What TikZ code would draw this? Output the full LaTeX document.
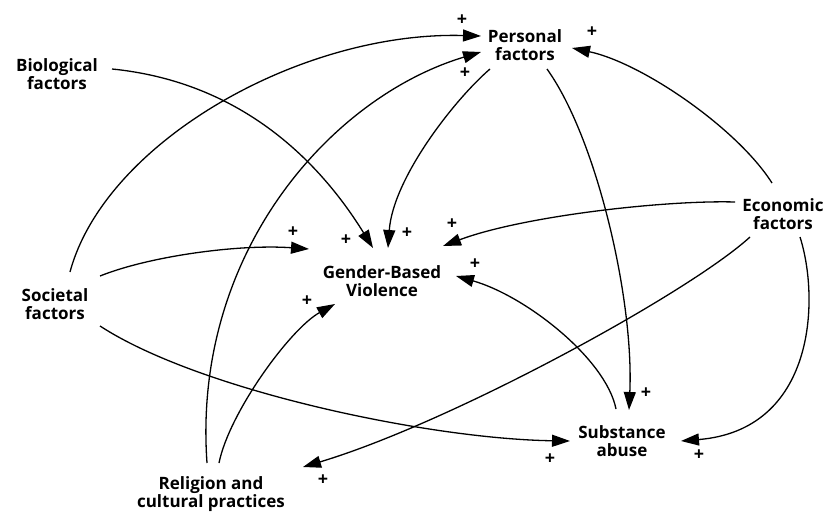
\documentclass[tikz,border=0pt]{standalone}
\usepackage{fontspec}
\setmainfont{Open Sans}
\usetikzlibrary{arrows.meta,calc}
\begin{document}
\begin{tikzpicture}[x=1pt,y=-1pt,
  factor/.style={font=\bfseries\fontsize{17}{17.5}\selectfont, align=center, inner sep=0pt},
  link/.style={line width=1.3pt, -{Triangle[length=18pt,width=12pt]}},
  plus/.style={font=\bfseries\fontsize{18}{18}\selectfont, inner sep=0pt}]
\useasboundingbox (0,0) rectangle (826,513);

% factors
\node[factor] (pers) at (525,45)  {Personal\\factors};
\node[factor] (bio)  at (57,74)   {Biological\\factors};
\node[factor] (econ) at (783,214) {Economic\\factors};
\node[factor] (gbv)  at (382,281) {Gender-Based\\Violence};
\node[factor] (soc)  at (55,304)  {Societal\\factors};
\node[factor] (subs) at (622,441) {Substance\\abuse};
\node[factor] (rel)  at (211,494) {Religion and\\cultural practices};

% causal links
\draw[link] ($(bio)+(55,-5)$)  .. controls +(120,12) and +(-60,-97) .. ($(gbv)+(-9,-33)$);
\draw[link] ($(pers)+(-35,24)$) .. controls +(-35,30) and +(5,-70) .. ($(gbv)+(6,-33)$);
\draw[link] ($(soc)+(15,-32)$)  .. controls +(35,-130) and +(-180,-5) .. ($(pers)+(-44,-9)$);
\draw[link] ($(rel)+(-4,-31)$)  .. controls +(-15,-210) and +(-150,45) .. ($(pers)+(-44,7)$);
\draw[link] ($(soc)+(45,-28)$)  .. controls +(50,-20) and +(-70,-5) .. ($(gbv)+(-73,-32)$);
\draw[link] ($(econ)+(-11,-31)$) .. controls +(-35,-55) and +(70,15) .. ($(pers)+(47,3)$);
\draw[link] ($(econ)+(-48,-12)$) .. controls +(-70,-2) and +(80,-30) .. ($(gbv)+(61,-35)$);
\draw[link] ($(econ)+(-33,23)$) .. controls +(-60,55) and +(150,-45) .. ($(rel)+(92,-27)$);
\draw[link] ($(econ)+(17,23)$)  .. controls +(20,63) and +(134,-11) .. ($(subs)+(59,0)$);
\draw[link] ($(pers)+(22,24)$)  .. controls +(50,70) and +(5,-110) .. ($(subs)+(7,-31)$);
\draw[link] ($(subs)+(-6,-32)$) .. controls +(-10,-50) and +(70,20) .. ($(gbv)+(74,-5)$);
\draw[link] ($(soc)+(45,22)$)   .. controls +(100,65) and +(-140,-2) .. ($(subs)+(-52,0)$);
\draw[link] ($(rel)+(8,-31)$)   .. controls +(10,-50) and +(-45,25) .. ($(gbv)+(-47,23)$);

% polarity signs
\node[plus] (s1)  at (346,240) {+};
\node[plus] (s2)  at (407,233) {+};
\node[plus] (s3)  at (462,20)  {+};
\node[plus] (s4)  at (465,73)  {+};
\node[plus] (s5)  at (293,232) {+};
\node[plus] (s6)  at (592,32)  {+};
\node[plus] (s7)  at (452,224) {+};
\node[plus] (s8)  at (323,480) {+};
\node[plus] (s9)  at (699,455) {+};
\node[plus] (s10) at (646,393) {+};
\node[plus] (s11) at (475,264) {+};
\node[plus] (s12) at (550,459) {+};
\node[plus] (s13) at (307,301) {+};
\end{tikzpicture}
\end{document}
